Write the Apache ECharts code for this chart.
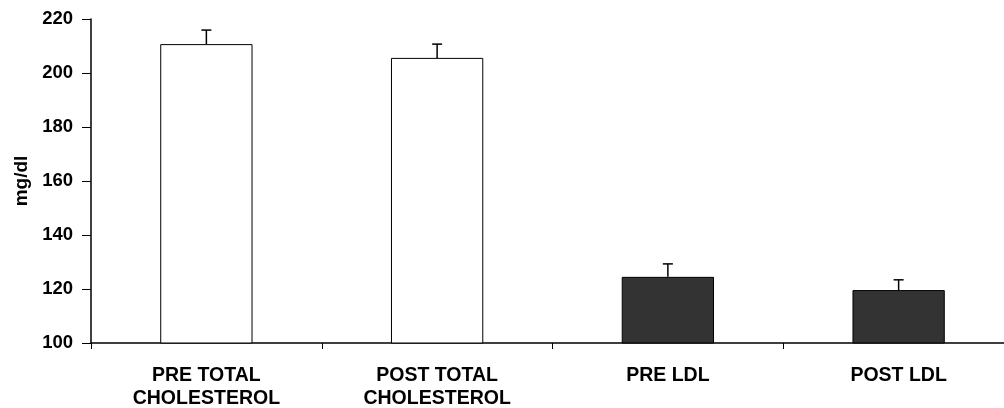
<!DOCTYPE html>
<html>
<head>
<meta charset="utf-8">
<script src="https://cdn.jsdelivr.net/npm/echarts@6/dist/echarts.min.js"></script>
<style>html,body{margin:0;padding:0;background:#fff}#c{width:1004px;height:408px}</style>
</head>
<body>
<div id="c"></div>
<script>
var categories = ['PRE TOTAL\nCHOLESTEROL', 'POST TOTAL\nCHOLESTEROL', 'PRE LDL', 'POST LDL'];
var means = [210.7, 205.6, 124.5, 119.6];
var errors = [5.2, 5.1, 4.8, 3.8];
var barColors = ['#ffffff', '#ffffff', '#333333', '#333333'];
var yTicks = [100, 120, 140, 160, 180, 200, 220];

var font = '"Liberation Sans", Arial, sans-serif';
var chart = echarts.init(document.getElementById('c'));
chart.setOption({
  animation: false,
  backgroundColor: '#ffffff',
  grid: { left: 91, top: 19, height: 324, width: 923, containLabel: false, outerBoundsMode: 'none' },
  xAxis: {
    type: 'category',
    data: categories,
    axisLine: { lineStyle: { color: '#000', width: 1.5 } },
    axisTick: { show: true, length: 6, lineStyle: { color: '#000', width: 1 } },
    axisLabel: { color: '#000', fontFamily: font, fontWeight: 'bold', fontSize: 19.5, lineHeight: 23, margin: 21, interval: 0 }
  },
  yAxis: {
    type: 'value',
    min: yTicks[0], max: yTicks[yTicks.length - 1], interval: 20,
    name: 'mg/dl', nameLocation: 'middle', nameGap: 55, nameRotate: 90,
    nameTextStyle: { color: '#000', fontFamily: font, fontWeight: 'bold', fontSize: 19 },
    splitLine: { show: false },
    axisLine: { show: true, lineStyle: { color: '#000', width: 1.5 } },
    axisTick: { show: true, length: 9, lineStyle: { color: '#000', width: 1 } },
    axisLabel: { color: '#000', fontFamily: font, fontWeight: 'bold', fontSize: 18.5, margin: 18 }
  },
  series: [
    {
      type: 'bar',
      barWidth: '40%',
      data: means.map(function (v, i) {
        return { value: v, itemStyle: { color: barColors[i], borderColor: '#000', borderWidth: 1 } };
      }),
      z: 2
    },
    {
      type: 'custom',
      z: 3,
      data: means.map(function (v, i) { return [i, v, v + errors[i]]; }),
      renderItem: function (params, api) {
        var base = api.coord([api.value(0), api.value(1)]);
        var top = api.coord([api.value(0), api.value(2)]);
        var hw = 5;
        return {
          type: 'group',
          children: [
            { type: 'line', shape: { x1: base[0], y1: base[1], x2: top[0], y2: top[1] }, style: { stroke: '#000', lineWidth: 1.5 } },
            { type: 'line', shape: { x1: top[0] - hw, y1: top[1], x2: top[0] + hw, y2: top[1] }, style: { stroke: '#000', lineWidth: 1.5 } }
          ]
        };
      }
    }
  ]
});
</script>
</body>
</html>
